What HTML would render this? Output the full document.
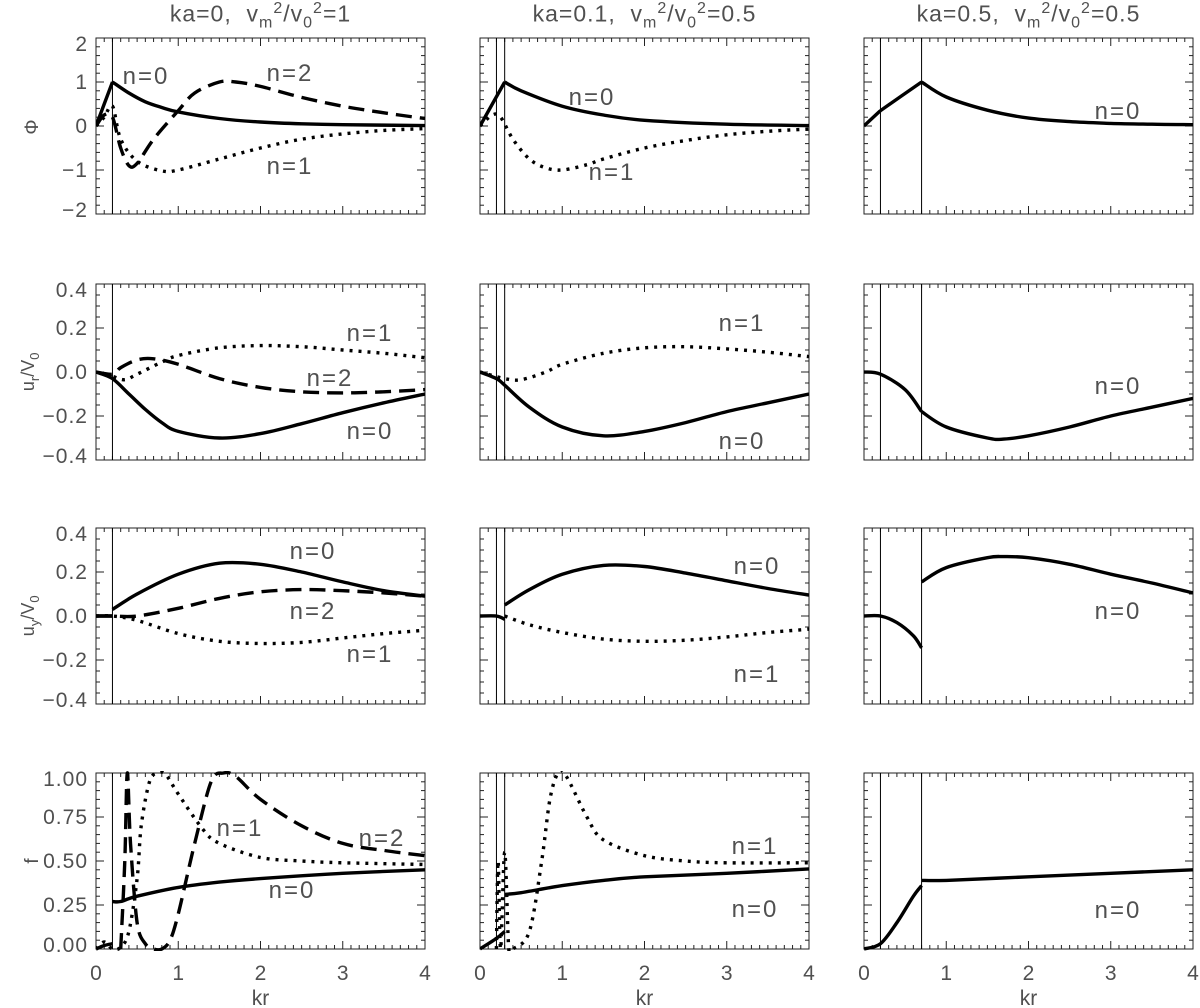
<!DOCTYPE html>
<html><head><meta charset="utf-8">
<style>
html,body{margin:0;padding:0;background:#fff;}
svg{display:block;font-family:"Liberation Sans",sans-serif;}
text{fill:#505050;}
</style></head>
<body>
<svg id="fig" width="1200" height="1008" viewBox="0 0 1200 1008" xmlns="http://www.w3.org/2000/svg"></svg>
<script>
// ---- data (x values kr, y values; null = break / sharp corner) ----
const r1c1_n0_x=[0,0.2,null,0.2,0.4,0.6,0.8,1,1.5,2,2.5,3,4];
const r1c1_n0_y=[0,1,null,1,0.75,0.55,0.42,0.32,0.17,0.09,0.05,0.03,0.01];
const r1c1_n1_x=[0,0.1,0.2,0.3,0.5,0.8,1,1.5,2,2.5,3,3.5,4];
const r1c1_n1_y=[0,0.2,0.45,-0.3,-0.8,-1.02,-1.0,-0.75,-0.5,-0.3,-0.18,-0.1,-0.06];
const r1c1_n2_x=[0,0.1,0.2,0.3,0.4,0.5,0.7,1,1.2,1.5,1.7,2,2.5,3,3.5,4];
const r1c1_n2_y=[0,0.25,0.2,-0.5,-0.9,-0.85,-0.3,0.35,0.75,1.0,1.0,0.9,0.65,0.45,0.3,0.17];
const r1c2_n0_x=[0,0.3,null,0.3,0.5,1,1.5,2,3,4];
const r1c2_n0_y=[0,1,null,1,0.8,0.45,0.25,0.13,0.04,0.01];
const r1c2_n1_x=[0,0.15,0.25,0.4,0.6,0.8,1,1.3,1.5,2,2.5,3,3.5,4];
const r1c2_n1_y=[0,0.25,0.2,-0.3,-0.75,-0.95,-1.0,-0.88,-0.75,-0.5,-0.33,-0.2,-0.12,-0.07];
const r1c3_n0_x=[0,0.2,null,0.2,0.7,null,0.7,1,1.5,2,2.5,3,3.5,4];
const r1c3_n0_y=[0,0.35,null,0.35,1.0,null,1.0,0.66,0.36,0.18,0.1,0.06,0.04,0.03];
const r2c1_n0_x=[0,0.2,0.4,0.6,0.8,1,1.5,2,2.5,3,3.5,4];
const r2c1_n0_y=[0,-0.03,-0.1,-0.17,-0.23,-0.27,-0.3,-0.28,-0.235,-0.185,-0.14,-0.1];
const r2c1_n1_x=[0,0.2,0.35,0.5,0.8,1,1.5,2,2.5,3,3.5,4];
const r2c1_n1_y=[0,-0.02,-0.035,-0.01,0.045,0.075,0.11,0.12,0.115,0.1,0.085,0.065];
const r2c1_n2_x=[0,0.2,0.3,0.5,0.7,1,1.5,2,2.5,3,3.5,4];
const r2c1_n2_y=[0,-0.01,0.02,0.055,0.06,0.035,-0.03,-0.07,-0.09,-0.095,-0.09,-0.08];
const r2c2_n0_x=[0,0.2,0.3,0.6,1,1.5,2,2.5,3,3.5,4];
const r2c2_n0_y=[0,-0.03,-0.06,-0.16,-0.25,-0.29,-0.27,-0.23,-0.18,-0.14,-0.1];
const r2c2_n1_x=[0,0.3,0.5,0.8,1,1.5,2,2.5,3,3.5,4];
const r2c2_n1_y=[0,-0.03,-0.035,0,0.035,0.085,0.11,0.115,0.105,0.09,0.07];
const r2c3_n0_x=[0,0.2,0.5,0.7,null,0.7,1,1.5,1.7,2,2.5,3,3.5,4];
const r2c3_n0_y=[0,-0.01,-0.08,-0.18,null,-0.18,-0.25,-0.3,-0.305,-0.29,-0.25,-0.2,-0.16,-0.12];
const r3c1_n0_x=[0,0.2,null,0.2,0.5,1,1.5,2,2.5,3,3.5,4];
const r3c1_n0_y=[0,0,null,0.03,0.1,0.19,0.24,0.235,0.2,0.155,0.115,0.09];
const r3c1_n2_x=[0,0.2,0.5,1,1.5,2,2.5,3,3.5,4];
const r3c1_n2_y=[0,0,0.0,0.035,0.08,0.11,0.12,0.115,0.105,0.09];
const r3c1_n1_x=[0,0.2,0.5,1,1.5,2,2.5,3,3.5,4];
const r3c1_n1_y=[0,0,-0.02,-0.08,-0.115,-0.125,-0.12,-0.1,-0.08,-0.065];
const r3c2_n0_x=[0,0.2,0.3,null,0.3,0.6,1,1.5,2,2.5,3,3.5,4];
const r3c2_n0_y=[0,0,-0.015,null,0.05,0.12,0.19,0.23,0.225,0.195,0.16,0.125,0.095];
const r3c2_n1_x=[0.3,0.6,1,1.5,2,2.5,3,3.5,4];
const r3c2_n1_y=[0,-0.04,-0.075,-0.105,-0.115,-0.11,-0.095,-0.075,-0.06];
const r3c3_n0_x=[0,0.2,0.4,0.6,0.7,null,0.7,1,1.5,1.7,2,2.5,3,3.5,4];
const r3c3_n0_y=[0,0,-0.03,-0.09,-0.145,null,0.155,0.22,0.265,0.27,0.265,0.235,0.19,0.15,0.105];
const r4c1_n0_x=[0,0.1,0.2,null,0.2,0.3,0.5,1,1.5,2,3,4];
const r4c1_n0_y=[0,0.02,0.03,null,0.27,0.27,0.3,0.35,0.38,0.4,0.43,0.45];
const r4c1_n1_x=[0,0.1,0.2,0.3,0.4,0.5,0.55,0.65,0.75,0.85,1,1.3,1.5,2,2.5,3,4];
const r4c1_n1_y=[0,0.04,0,0.01,0.1,0.4,0.7,0.95,1.0,0.99,0.88,0.68,0.6,0.52,0.5,0.49,0.48];
const r4c1_n2_x=[0.3,0.35,0.38,0.42,0.5,0.6,0.7,0.8,0.9,1,1.2,1.4,1.55,1.7,2,2.5,3,3.5,4];
const r4c1_n2_y=[0,0.5,1.0,0.6,0.15,0.03,0,0,0.05,0.2,0.6,0.95,1.0,0.98,0.85,0.7,0.6,0.56,0.53];
const r4c2_n0_x=[0,0.2,0.3,null,0.3,0.5,1,1.5,2,3,4];
const r4c2_n0_y=[0,0.06,0.1,null,0.31,0.32,0.36,0.39,0.41,0.43,0.455];
const r4c2_n1_x=[0.2,0.22,0.25,0.3,0.35,0.4,0.6,0.75,0.85,0.95,1.05,1.3,1.5,2,2.5,3,4];
const r4c2_n1_y=[0,0.5,0,0.55,0,0,0.1,0.5,0.85,1.0,0.98,0.75,0.62,0.53,0.5,0.49,0.49];
const r4c3_n0_x=[0,0.2,0.4,0.6,0.7,null,0.7,1,2,3,4];
const r4c3_n0_y=[0,0.03,0.15,0.3,0.36,null,0.39,0.39,0.41,0.43,0.45];

const xTickLabels=["0","1","2","3","4"];
const row1Ticks=["2","1","0","\u22121","\u22122"];
const row23Ticks=["0.4","0.2","0.0","\u22120.2","\u22120.4"];
const row4Ticks=["1.00","0.75","0.50","0.25","0.00"];

const NS="http://www.w3.org/2000/svg";
const svg=document.getElementById('fig');
const colL=[96,480,864], W=329;
const rowT=[38,284,528,773], H=176;
const yRanges=[[-2,2],[-0.4,0.4],[-0.4,0.4],[0,1]];
const yMinor=[0.2,0.05,0.05,0.05];
const vlines=[[0.2],[0.2,0.3],[0.2,0.7]];
function mk(tag,attrs,parent){const e=document.createElementNS(NS,tag);for(const k in attrs)e.setAttribute(k,attrs[k]);(parent||svg).appendChild(e);return e;}
function xs(c,v){return colL[c]+v/4*W;}
function ys(r,v){const [a,b]=yRanges[r];return rowT[r]+H-(v-a)/(b-a)*H;}

const styles={solid:"none",dot:"3 6",dash:"16 8"};
function segPath(P){
  let d="M"+P[0][0].toFixed(1)+","+P[0][1].toFixed(1);
  for(let i=0;i<P.length-1;i++){
    const p0=P[Math.max(0,i-1)],p1=P[i],p2=P[i+1],p3=P[Math.min(P.length-1,i+2)];
    if(Math.abs(p2[0]-p1[0])<0.5){d+=" L"+p2[0].toFixed(1)+","+p2[1].toFixed(1);continue;}
    const c1=[p1[0]+(p2[0]-p0[0])/6,p1[1]+(p2[1]-p0[1])/6];
    const c2=[p2[0]-(p3[0]-p1[0])/6,p2[1]-(p3[1]-p1[1])/6];
    d+=" C"+c1[0].toFixed(1)+","+c1[1].toFixed(1)+" "+c2[0].toFixed(1)+","+c2[1].toFixed(1)+" "+p2[0].toFixed(1)+","+p2[1].toFixed(1);
  }
  return d;
}
function curve(r,c,X,Y,style,name){
  const g=mk('g',{});
  
  
  let segs=[[]];
  for(let i=0;i<X.length;i++){
    if(X[i]===null){segs.push([]);continue;}
    segs[segs.length-1].push([xs(c,X[i]),ys(r,Y[i])]);
  }
  let d="";for(const s of segs)if(s.length>1)d+=segPath(s)+" ";
  mk('path',{d:d,fill:"none",stroke:"#000","stroke-width":3.4,"stroke-dasharray":styles[style],"stroke-linejoin":"round","clip-path":`url(#clip${r}${c})`},g);
}
function label(x,y,t,name){const e=mk('text',{x:x,y:y,"font-size":24,"letter-spacing":"2","text-anchor":"middle"});e.textContent=t;
  return e;}

const defs=mk('defs',{});
for(let r=0;r<4;r++)for(let c=0;c<3;c++){
  const cp=mk('clipPath',{id:`clip${r}${c}`},defs);
  mk('rect',{x:colL[c],y:rowT[r]-2,width:W,height:H+4},cp);
  const g=mk('g',{});
  
  
  mk('rect',{x:colL[c],y:rowT[r],width:W,height:H,fill:"none",stroke:"#222","stroke-width":1},g);
  for(let i=0;i<=40;i++){const v=i/10,x=xs(c,v),L=(i%10===0)?8:4;
    mk('line',{x1:x,x2:x,y1:rowT[r]+H,y2:rowT[r]+H-L,stroke:"#222","stroke-width":1},g);
    mk('line',{x1:x,x2:x,y1:rowT[r],y2:rowT[r]+L,stroke:"#222","stroke-width":1},g);}
  const [a,b]=yRanges[r];const n=Math.round((b-a)/yMinor[r]);const maj=Math.round(n/4);
  for(let i=0;i<=n;i++){const y=ys(r,a+i*yMinor[r]),L=(i%maj===0)?8:4;
    mk('line',{x1:colL[c],x2:colL[c]+L,y1:y,y2:y,stroke:"#222","stroke-width":1},g);
    mk('line',{x1:colL[c]+W,x2:colL[c]+W-L,y1:y,y2:y,stroke:"#222","stroke-width":1},g);}
  for(const v of vlines[c]){const x=xs(c,v);mk('line',{x1:x,x2:x,y1:rowT[r],y2:rowT[r]+H,stroke:"#000","stroke-width":1},g);}
}
const yt=[row1Ticks,row23Ticks,row23Ticks,row4Ticks];
for(let r=0;r<4;r++){for(let i=0;i<5;i++){let y=rowT[r]+i*H/4+7;if(i===0)y+=6;if(i===4)y-=4;
  const e=mk('text',{x:88,y:y,"font-size":21,"letter-spacing":"1","text-anchor":"end"});e.textContent=yt[r][i];
  }}
for(let c=0;c<3;c++){for(let i=0;i<5;i++){const e=mk('text',{x:xs(c,i),y:980,"font-size":21,"text-anchor":"middle"});e.textContent=xTickLabels[i];
  }
  const t=mk('text',{x:xs(c,2),y:1005,"font-size":21,"text-anchor":"middle"});t.textContent="kr";
  }
curve(0,0,r1c1_n0_x,r1c1_n0_y,'solid','phi-n0');curve(0,0,r1c1_n1_x,r1c1_n1_y,'dot','phi-n1');curve(0,0,r1c1_n2_x,r1c1_n2_y,'dash','phi-n2');
curve(0,1,r1c2_n0_x,r1c2_n0_y,'solid','phi-n0');curve(0,1,r1c2_n1_x,r1c2_n1_y,'dot','phi-n1');
curve(0,2,r1c3_n0_x,r1c3_n0_y,'solid','phi-n0');
curve(1,0,r2c1_n0_x,r2c1_n0_y,'solid','ur-n0');curve(1,0,r2c1_n1_x,r2c1_n1_y,'dot','ur-n1');curve(1,0,r2c1_n2_x,r2c1_n2_y,'dash','ur-n2');
curve(1,1,r2c2_n0_x,r2c2_n0_y,'solid','ur-n0');curve(1,1,r2c2_n1_x,r2c2_n1_y,'dot','ur-n1');
curve(1,2,r2c3_n0_x,r2c3_n0_y,'solid','ur-n0');
curve(2,0,r3c1_n0_x,r3c1_n0_y,'solid','uy-n0');curve(2,0,r3c1_n1_x,r3c1_n1_y,'dot','uy-n1');curve(2,0,r3c1_n2_x,r3c1_n2_y,'dash','uy-n2');
curve(2,1,r3c2_n0_x,r3c2_n0_y,'solid','uy-n0');curve(2,1,r3c2_n1_x,r3c2_n1_y,'dot','uy-n1');
curve(2,2,r3c3_n0_x,r3c3_n0_y,'solid','uy-n0');
curve(3,0,r4c1_n0_x,r4c1_n0_y,'solid','f-n0');curve(3,0,r4c1_n1_x,r4c1_n1_y,'dot','f-n1');curve(3,0,r4c1_n2_x,r4c1_n2_y,'dash','f-n2');
curve(3,1,r4c2_n0_x,r4c2_n0_y,'solid','f-n0');curve(3,1,r4c2_n1_x,r4c2_n1_y,'dot','f-n1');
curve(3,2,r4c3_n0_x,r4c3_n0_y,'solid','f-n0');
label(146,84,"n=0","label-n0");label(290,81,"n=2","label-n2");label(290,174,"n=1","label-n1");
label(592,105,"n=0","label-n0");label(612,180,"n=1","label-n1");
label(1118,119,"n=0","label-n0");
label(370,341,"n=1","label-n1");label(330,386,"n=2","label-n2");label(370,439,"n=0","label-n0");
label(742,331,"n=1","label-n1");label(742,449,"n=0","label-n0");
label(1118,394,"n=0","label-n0");
label(313,559,"n=0","label-n0");label(313,619,"n=2","label-n2");label(370,662,"n=1","label-n1");
label(757,574,"n=0","label-n0");label(757,682,"n=1","label-n1");
label(1118,619,"n=0","label-n0");
label(240,836,"n=1","label-n1");label(382,846,"n=2","label-n2");label(292,898,"n=0","label-n0");
label(755,854,"n=1","label-n1");label(755,917,"n=0","label-n0");
label(1118,918,"n=0","label-n0");
</script>
<div style="position:absolute;left:0;top:0;width:1200px;height:1008px;pointer-events:none;font-family:'Liberation Sans',sans-serif;color:#505050;">
  <div style="position:absolute;left:96px;width:329px;top:0px;text-align:center;font-size:23px;letter-spacing:1px;">ka=0, &nbsp;v<sub style="font-size:16px">m</sub><sup style="font-size:16px">2</sup>/v<sub style="font-size:16px">0</sub><sup style="font-size:16px">2</sup>=1</div>
  <div style="position:absolute;left:480px;width:329px;top:0px;text-align:center;font-size:23px;letter-spacing:1px;">ka=0.1, &nbsp;v<sub style="font-size:16px">m</sub><sup style="font-size:16px">2</sup>/v<sub style="font-size:16px">0</sub><sup style="font-size:16px">2</sup>=0.5</div>
  <div style="position:absolute;left:864px;width:329px;top:0px;text-align:center;font-size:23px;letter-spacing:1px;">ka=0.5, &nbsp;v<sub style="font-size:16px">m</sub><sup style="font-size:16px">2</sup>/v<sub style="font-size:16px">0</sub><sup style="font-size:16px">2</sup>=0.5</div>
  <div style="position:absolute;left:18px;top:116px;font-size:19px;transform:rotate(-90deg);width:30px;text-align:center;">Φ</div>
  <div style="position:absolute;left:-10px;top:360px;font-size:18px;transform:rotate(-90deg);width:80px;text-align:center;">u<sub style="font-size:13px">r</sub>/V<sub style="font-size:13px">0</sub></div>
  <div style="position:absolute;left:-10px;top:604px;font-size:18px;transform:rotate(-90deg);width:80px;text-align:center;">u<sub style="font-size:13px">y</sub>/V<sub style="font-size:13px">0</sub></div>
  <div style="position:absolute;left:18px;top:850px;font-size:19px;transform:rotate(-90deg);width:30px;text-align:center;">f</div>
</div>
</body></html>
